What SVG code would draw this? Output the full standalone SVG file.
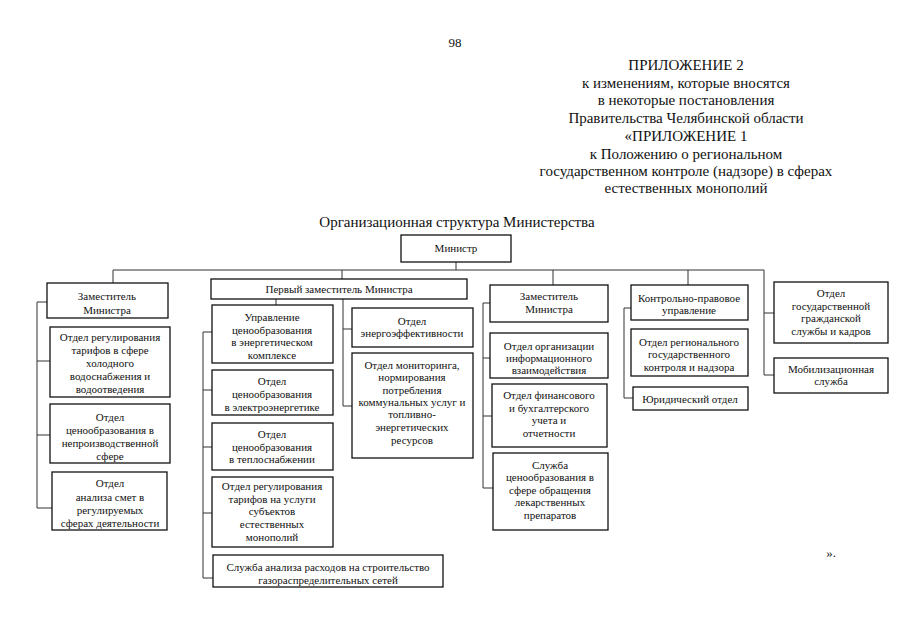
<svg xmlns="http://www.w3.org/2000/svg" width="905" height="640" viewBox="0 0 905 640">
<style>
text{font-family:"Liberation Serif","Times New Roman",serif;fill:#111;text-anchor:middle}
.h{font-size:15px}
.b{font-size:11px}
rect{fill:#fff;stroke:#111;stroke-width:1.3}
#connectors line{stroke:#333;stroke-width:1}
</style>
<rect x="0" y="0" width="905" height="640" style="stroke:none;fill:#fff"/>
<g id="header">
<text class="h" x="455" y="47" style="font-size:13px">98</text>
<text class="h" x="686" y="70">ПРИЛОЖЕНИЕ 2</text>
<text class="h" x="686" y="88">к изменениям, которые вносятся</text>
<text class="h" x="686" y="105">в некоторые постановления</text>
<text class="h" x="686" y="123">Правительства Челябинской области</text>
<text class="h" x="686" y="141">«ПРИЛОЖЕНИЕ 1</text>
<text class="h" x="686" y="159">к Положению о региональном</text>
<text class="h" x="686" y="176">государственном контроле (надзоре) в сферах</text>
<text class="h" x="686" y="193">естественных монополий</text>
<text class="h" x="457" y="227">Организационная структура Министерства</text>
<text class="h" x="831" y="557" style="font-size:13px">».</text>
</g>
<g id="connectors">
<line x1="456" y1="262" x2="456" y2="270"/>
<line x1="113" y1="270" x2="764" y2="270"/>
<line x1="113" y1="270" x2="113" y2="283"/>
<line x1="342" y1="270" x2="342" y2="279"/>
<line x1="553" y1="270" x2="553" y2="285"/>
<line x1="688" y1="270" x2="688" y2="285"/>
<line x1="764" y1="270" x2="764" y2="375"/>
<line x1="764" y1="313" x2="774" y2="313"/>
<line x1="764" y1="375" x2="774" y2="375"/>
<line x1="37" y1="302" x2="37" y2="508"/>
<line x1="37" y1="302" x2="47" y2="302"/>
<line x1="37" y1="361" x2="50" y2="361"/>
<line x1="37" y1="435" x2="50" y2="435"/>
<line x1="37" y1="508" x2="52" y2="508"/>
<line x1="276" y1="299" x2="276" y2="305"/>
<line x1="343" y1="299" x2="343" y2="406"/>
<line x1="343" y1="329" x2="352" y2="329"/>
<line x1="343" y1="406" x2="352" y2="406"/>
<line x1="203" y1="332" x2="203" y2="578"/>
<line x1="203" y1="332" x2="212" y2="332"/>
<line x1="203" y1="390" x2="212" y2="390"/>
<line x1="203" y1="447" x2="212" y2="447"/>
<line x1="203" y1="513" x2="212" y2="513"/>
<line x1="203" y1="578" x2="213" y2="578"/>
<line x1="483" y1="303" x2="483" y2="488"/>
<line x1="483" y1="303" x2="490" y2="303"/>
<line x1="483" y1="358" x2="490" y2="358"/>
<line x1="483" y1="416" x2="492" y2="416"/>
<line x1="483" y1="488" x2="493" y2="488"/>
<line x1="624" y1="308" x2="624" y2="398"/>
<line x1="624" y1="308" x2="631" y2="308"/>
<line x1="624" y1="398" x2="633" y2="398"/>
</g>
<g id="minister"><rect x="401" y="235" width="110" height="27"/><text class="b" x="456" y="252">Министр</text></g>
<g id="zam1"><rect x="47" y="283" width="121" height="35"/><text class="b" x="107" y="300">Заместитель</text><text class="b" x="107" y="314">Министра</text></g>
<g id="ot_vodo"><rect x="50" y="327" width="120" height="70"/><text class="b" x="110" y="341">Отдел регулирования</text><text class="b" x="110" y="354">тарифов в сфере</text><text class="b" x="110" y="367">холодного</text><text class="b" x="110" y="380">водоснабжения и</text><text class="b" x="110" y="393">водоотведения</text></g>
<g id="ot_nepr"><rect x="50" y="404" width="120" height="59"/><text class="b" x="110" y="421">Отдел</text><text class="b" x="110" y="434">ценообразования в</text><text class="b" x="110" y="447">непроизводственной</text><text class="b" x="110" y="460">сфере</text></g>
<g id="ot_smet"><rect x="52" y="472" width="115" height="58"/><text class="b" x="110" y="487">Отдел</text><text class="b" x="110" y="501">анализа смет в</text><text class="b" x="110" y="514">регулируемых</text><text class="b" x="110" y="527">сферах деятельности</text></g>
<g id="perv"><rect x="211" y="279" width="256" height="20"/><text class="b" x="339" y="293">Первый заместитель Министра</text></g>
<g id="upr"><rect x="212" y="305" width="121" height="58"/><text class="b" x="272" y="321">Управление</text><text class="b" x="272" y="334">ценообразования</text><text class="b" x="272" y="346">в энергетическом</text><text class="b" x="272" y="359">комплексе</text></g>
<g id="elektro"><rect x="212" y="370" width="121" height="45"/><text class="b" x="272" y="385">Отдел</text><text class="b" x="272" y="398">ценообразования</text><text class="b" x="272" y="411">в электроэнергетике</text></g>
<g id="teplo"><rect x="212" y="423" width="121" height="47"/><text class="b" x="272" y="438">Отдел</text><text class="b" x="272" y="451">ценообразования</text><text class="b" x="272" y="463">в теплоснабжении</text></g>
<g id="tarif"><rect x="212" y="477" width="121" height="70"/><text class="b" x="272" y="490">Отдел регулирования</text><text class="b" x="272" y="503">тарифов на услуги</text><text class="b" x="272" y="515">субъектов</text><text class="b" x="272" y="528">естественных</text><text class="b" x="272" y="541">монополий</text></g>
<g id="gaz"><rect x="213" y="555" width="230" height="32"/><text class="b" x="328" y="571">Служба анализа расходов на строительство</text><text class="b" x="328" y="584">газораспределительных сетей</text></g>
<g id="energoeff"><rect x="352" y="308" width="121" height="39"/><text class="b" x="412" y="325">Отдел</text><text class="b" x="412" y="337">энергоэффективности</text></g>
<g id="monitor"><rect x="352" y="353" width="121" height="105"/><text class="b" x="412" y="369">Отдел мониторинга,</text><text class="b" x="412" y="381">нормирования</text><text class="b" x="412" y="394">потребления</text><text class="b" x="412" y="406">коммунальных услуг и</text><text class="b" x="412" y="418">топливно-</text><text class="b" x="412" y="431">энергетических</text><text class="b" x="412" y="444">ресурсов</text></g>
<g id="zam2"><rect x="490" y="285" width="118" height="37"/><text class="b" x="549" y="300">Заместитель</text><text class="b" x="549" y="313">Министра</text></g>
<g id="inform"><rect x="490" y="333" width="118" height="45"/><text class="b" x="549" y="350">Отдел организации</text><text class="b" x="549" y="362">информационного</text><text class="b" x="549" y="374">взаимодействия</text></g>
<g id="fin"><rect x="492" y="384" width="115" height="63"/><text class="b" x="549" y="399">Отдел финансового</text><text class="b" x="549" y="412">и бухгалтерского</text><text class="b" x="549" y="424">учета и</text><text class="b" x="549" y="437">отчетности</text></g>
<g id="lek"><rect x="493" y="453" width="115" height="77"/><text class="b" x="550" y="469">Служба</text><text class="b" x="550" y="481">ценообразования в</text><text class="b" x="550" y="494">сфере обращения</text><text class="b" x="550" y="506">лекарственных</text><text class="b" x="550" y="519">препаратов</text></g>
<g id="kontrol"><rect x="631" y="285" width="117" height="35"/><text class="b" x="689" y="302">Контрольно-правовое</text><text class="b" x="689" y="314">управление</text></g>
<g id="region"><rect x="631" y="329" width="117" height="47"/><text class="b" x="689" y="346">Отдел регионального</text><text class="b" x="689" y="358">государственного</text><text class="b" x="689" y="371">контроля и надзора</text></g>
<g id="yur"><rect x="633" y="387" width="115" height="23"/><text class="b" x="690" y="403">Юридический отдел</text></g>
<g id="gos_sl"><rect x="774" y="282" width="114" height="61"/><text class="b" x="831" y="297">Отдел</text><text class="b" x="831" y="310">государственной</text><text class="b" x="831" y="322">гражданской</text><text class="b" x="831" y="335">службы и кадров</text></g>
<g id="mob"><rect x="774" y="358" width="114" height="35"/><text class="b" x="831" y="373">Мобилизационная</text><text class="b" x="831" y="385">служба</text></g>
</svg>
